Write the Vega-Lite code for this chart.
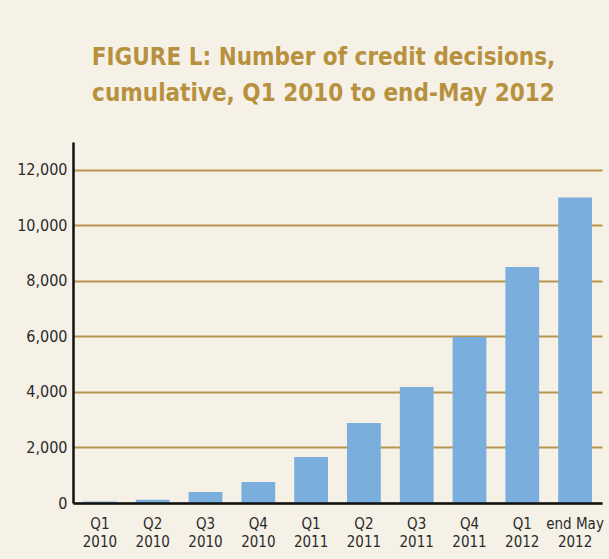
{
  "$schema": "https://vega.github.io/schema/vega-lite/v6.json",
  "autosize": {"type": "none"},
  "width": 529,
  "height": 361,
  "padding": {"top": 142, "left": 73, "right": 7, "bottom": 56},
  "background": "#f6f1e7",
  "title": {
    "text": ["FIGURE L: Number of credit decisions,", "cumulative, Q1 2010 to end-May 2012"],
    "font": "DejaVu Sans Condensed, sans-serif",
    "fontSize": 24,
    "fontWeight": "bold",
    "color": "#b8913f",
    "lineHeight": 36,
    "anchor": "middle",
    "frame": "group",
    "dx": -14,
    "offset": 36
  },
  "data": {
    "values": [
      {"period": "Q1 2010", "decisions": 55},
      {"period": "Q2 2010", "decisions": 120},
      {"period": "Q3 2010", "decisions": 400},
      {"period": "Q4 2010", "decisions": 760},
      {"period": "Q1 2011", "decisions": 1660},
      {"period": "Q2 2011", "decisions": 2880},
      {"period": "Q3 2011", "decisions": 4180},
      {"period": "Q4 2011", "decisions": 5980},
      {"period": "Q1 2012", "decisions": 8500},
      {"period": "end May 2012", "decisions": 11000}
    ]
  },
  "config": {
    "view": {"stroke": null},
    "axis": {
      "labelFont": "DejaVu Sans Condensed, sans-serif",
      "labelColor": "#2a2a2a",
      "domainColor": "#111111",
      "domainWidth": 2.5,
      "ticks": false,
      "title": null
    }
  },
  "mark": {"type": "bar", "color": "#7aaedd"},
  "encoding": {
    "x": {
      "field": "period",
      "type": "nominal",
      "sort": null,
      "scale": {"paddingInner": 0.36, "paddingOuter": 0.19},
      "axis": {
        "labelAngle": 0,
        "labelFontSize": 15,
        "labelPadding": 13,
        "labelLineHeight": 18,
        "labelExpr": "datum.label == 'end May 2012' ? ['end May', '2012'] : split(datum.label, ' ')",
        "zindex": 1
      }
    },
    "y": {
      "field": "decisions",
      "type": "quantitative",
      "scale": {"domain": [0, 13000], "nice": false},
      "axis": {
        "values": [0, 2000, 4000, 6000, 8000, 10000, 12000],
        "format": ",d",
        "labelFontSize": 16,
        "labelPadding": 6,
        "grid": true,
        "gridColor": "#b8954f",
        "gridWidth": 2,
        "gridOpacity": 1
      }
    }
  }
}
